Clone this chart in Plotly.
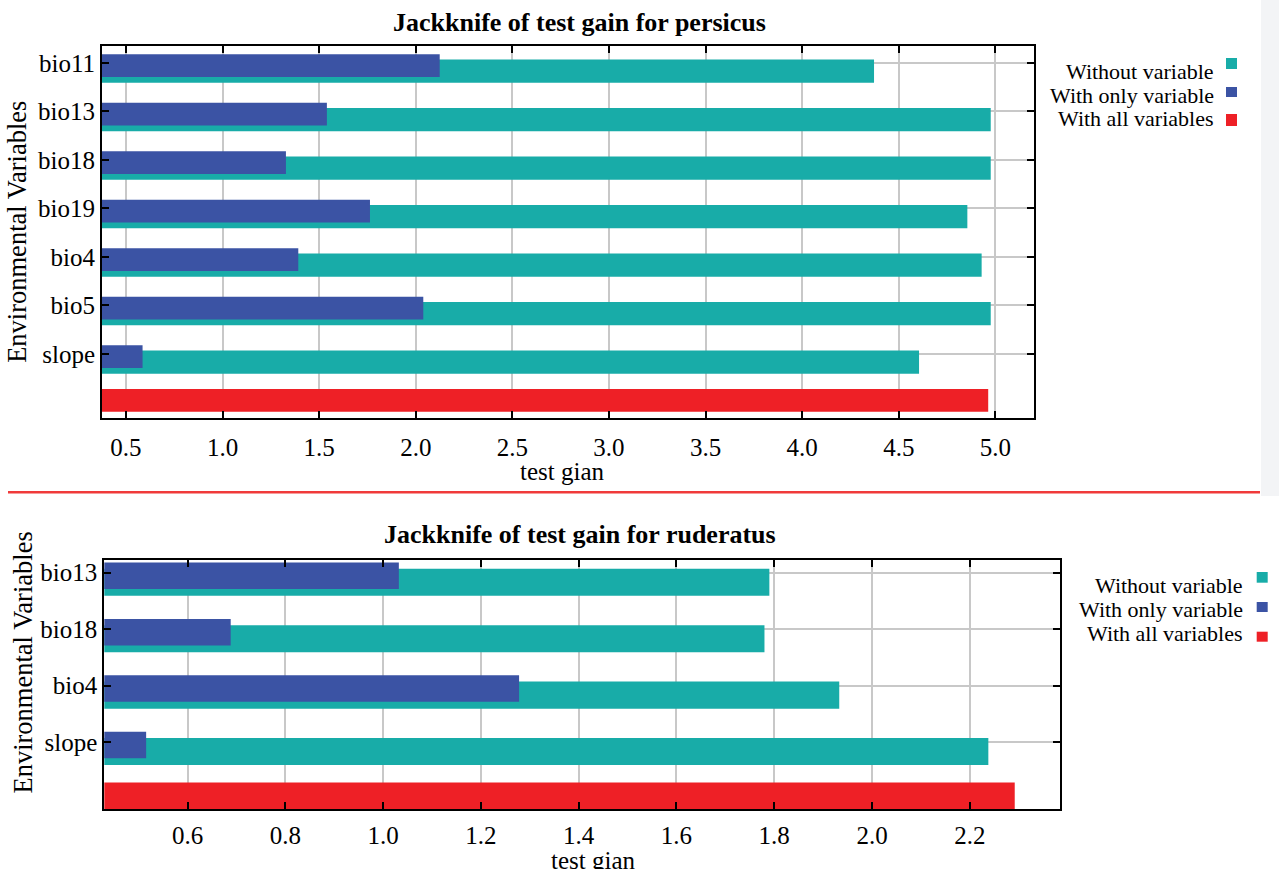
import plotly.graph_objects as go

# ---------------- data ----------------
top_vars = ["bio11", "bio13", "bio18", "bio19", "bio4", "bio5", "slope"]
top_without = [4.372, 4.976, 4.976, 4.855, 4.929, 4.976, 4.605]
top_only = [2.124, 1.540, 1.328, 1.763, 1.392, 2.039, 0.586]
top_all = 4.963

bot_vars = ["bio13", "bio18", "bio4", "slope"]
bot_without = [1.790, 1.780, 1.933, 2.238]
bot_only = [1.032, 0.688, 1.278, 0.515]
bot_all = 2.292

series_names = ["Without variable", "With only variable", "With all variables"]
titles = ["Jackknife of test gain for persicus", "Jackknife of test gain for ruderatus"]
x_title = "test gian"
y_title = "Environmental Variables"

# ---------------- style ----------------
W, H = 1279, 869
TEAL, BLUE, RED = "#18aca8", "#3b53a4", "#ee2026"
FONT = "Liberation Serif"
GRID = "#c8c8c8"


def px(x):
    return x / W


def py(y):
    return 1 - y / H


fig = go.Figure()


def add_panel(vars_, without, only, allv, xa, ya):
    idx = list(range(len(vars_)))
    fig.add_trace(go.Bar(y=idx, x=without, orientation="h", marker_color=TEAL,
                         marker_line_width=0, offset=-0.07, width=0.48,
                         name=series_names[0], showlegend=False,
                         xaxis=xa, yaxis=ya))
    fig.add_trace(go.Bar(y=idx, x=only, orientation="h", marker_color=BLUE,
                         marker_line_width=0, offset=-0.18, width=0.47,
                         name=series_names[1], showlegend=False,
                         xaxis=xa, yaxis=ya))
    fig.add_trace(go.Bar(y=[len(vars_)], x=[allv], orientation="h", marker_color=RED,
                         marker_line_width=0, offset=-0.28, width=0.47,
                         name=series_names[2], showlegend=False,
                         xaxis=xa, yaxis=ya))


add_panel(top_vars, top_without, top_only, top_all, "x", "y")
add_panel(bot_vars, bot_without, bot_only, bot_all, "x2", "y2")

axis_common = dict(
    showline=True, linecolor="black", linewidth=2, mirror="allticks",
    ticks="inside", ticklen=7, tickwidth=2, tickcolor="black",
    showgrid=True, gridcolor=GRID, gridwidth=1.5, zeroline=False,
    tickfont=dict(family=FONT, size=25, color="black"), automargin=False,
)

fig.update_layout(
    width=W, height=H, margin=dict(l=0, r=0, t=0, b=0),
    paper_bgcolor="white", plot_bgcolor="white", barmode="overlay",
    showlegend=False,
    xaxis=dict(domain=[px(102), px(1034)], range=[0.376, 5.20], tick0=0.5, dtick=0.5,
               tickformat=".1f", anchor="y", ticklabelstandoff=6,
               **axis_common),
    yaxis=dict(domain=[py(417.5), py(46)], range=[len(top_vars) + 0.31, -0.35],
               tickvals=list(range(len(top_vars))), ticktext=top_vars, anchor="x",
               title=dict(text=y_title, standoff=4, font=dict(family=FONT, size=26.5, color="black")),
               **axis_common),
    xaxis2=dict(domain=[px(104.3), px(1059.7)], range=[0.4294, 2.384], tick0=0.6, dtick=0.2,
                tickformat=".1f", anchor="y2", ticklabelstandoff=3,
                **axis_common),
    yaxis2=dict(domain=[py(809.3), py(560.3)], range=[len(bot_vars) + 0.195, -0.22],
                tickvals=list(range(len(bot_vars))), ticktext=bot_vars, anchor="x2",
                **axis_common),
)

annotations = []
tfont = dict(family=FONT, size=26, color="black")
lfont = dict(family=FONT, size=25, color="black")
# titles
annotations.append(dict(text="<b>" + titles[0] + "</b>", x=px(579), y=py(23), xref="paper", yref="paper",
                        xanchor="center", yanchor="middle", showarrow=False, font=tfont))
annotations.append(dict(text="<b>" + titles[1] + "</b>", x=px(580), y=py(534), xref="paper", yref="paper",
                        xanchor="center", yanchor="middle", showarrow=False, font=tfont))
# x axis titles
annotations.append(dict(text=x_title, x=px(562), y=py(472), xref="paper", yref="paper",
                        xanchor="center", yanchor="middle", showarrow=False, font=lfont))
annotations.append(dict(text=x_title, x=px(593), y=py(860), xref="paper", yref="paper",
                        xanchor="center", yanchor="middle", showarrow=False, font=lfont))
# bottom y title
annotations.append(dict(text=y_title, x=px(22), y=py(662.5), xref="paper", yref="paper",
                        xanchor="center", yanchor="middle", textangle=-90, showarrow=False,
                        font=dict(family=FONT, size=26.5, color="black")))

# legends (text then square to the right)
colors = [TEAL, BLUE, RED]
leg_top = dict(text_x=1216, text_y=[71, 95, 118.5], sq_x=(1226, 1237),
               sq_y=[(58, 69), (87, 97), (114, 126)])
leg_bot = dict(text_x=1245, text_y=[585, 609.6, 633.5], sq_x=(1256.7, 1267.7),
               sq_y=[(572, 582.7), (602, 612), (631.7, 641.7)])

shapes = []
# gray strip on right of the top panel
shapes.append(dict(type="rect", xref="paper", yref="paper", x0=px(1261), x1=1, y0=py(496), y1=1,
                   fillcolor="#f3f4f6", line_width=0, layer="below"))
# red separator line
shapes.append(dict(type="line", xref="paper", yref="paper", x0=px(8), x1=px(1260), y0=py(492.3), y1=py(492.3),
                   line=dict(color="#f03a3a", width=2.5)))

for leg in (leg_top, leg_bot):
    for i, name in enumerate(series_names):
        annotations.append(dict(text=name, x=px(leg["text_x"]), y=py(leg["text_y"][i]),
                                xref="paper", yref="paper", xanchor="right", yanchor="middle",
                                showarrow=False, font=dict(family=FONT, size=22, color="black")))
        y0, y1 = leg["sq_y"][i]
        shapes.append(dict(type="rect", xref="paper", yref="paper",
                           x0=px(leg["sq_x"][0]), x1=px(leg["sq_x"][1]), y0=py(y1), y1=py(y0),
                           fillcolor=colors[i], line_width=0))

fig.update_layout(annotations=annotations, shapes=shapes)

fig.write_html("out.html", config={"displayModeBar": False},
               post_script="document.body.style.margin='0';document.body.style.overflow='hidden';")
